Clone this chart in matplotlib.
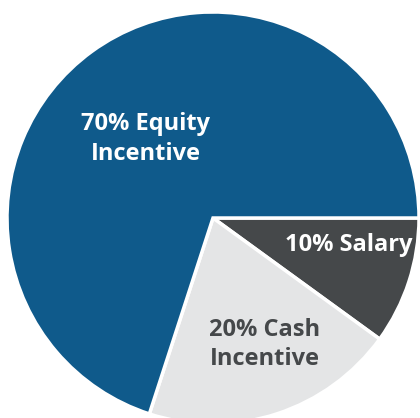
import matplotlib.pyplot as plt

# slice data
labels = ["10% Salary", "20% Cash\nIncentive", "70% Equity\nIncentive"]
values = [10, 20, 70]
colors = ["#45484a", "#e4e5e6", "#0f5a8b"]
text_colors = ["white", "#45484a", "white"]

fig = plt.figure(figsize=(4.2, 4.18), dpi=100)
ax = fig.add_axes([0, 0, 1, 1])

wedges, _ = ax.pie(values, colors=colors, startangle=0, counterclock=False,
                   radius=1, wedgeprops=dict(edgecolor="white", linewidth=2.5))

# label spots, in radius units from the centre
label_pos = [(0.658, -0.13), (0.252, -0.615), (-0.325, 0.383)]
for lab, (x, y), c in zip(labels, label_pos, text_colors):
    ax.text(x, y, lab, ha="center", va="center", color=c, fontsize=17,
            fontweight="bold", family="Open Sans", linespacing=1.3)

# crop the view like the original picture
R = 206
cx, cy = 213, 218
ax.set_xlim(-cx / R, (420 - cx) / R)
ax.set_ylim(-(418 - cy) / R, cy / R)
ax.set_aspect("auto")
ax.axis("off")

fig.savefig("out.png", dpi=100)
